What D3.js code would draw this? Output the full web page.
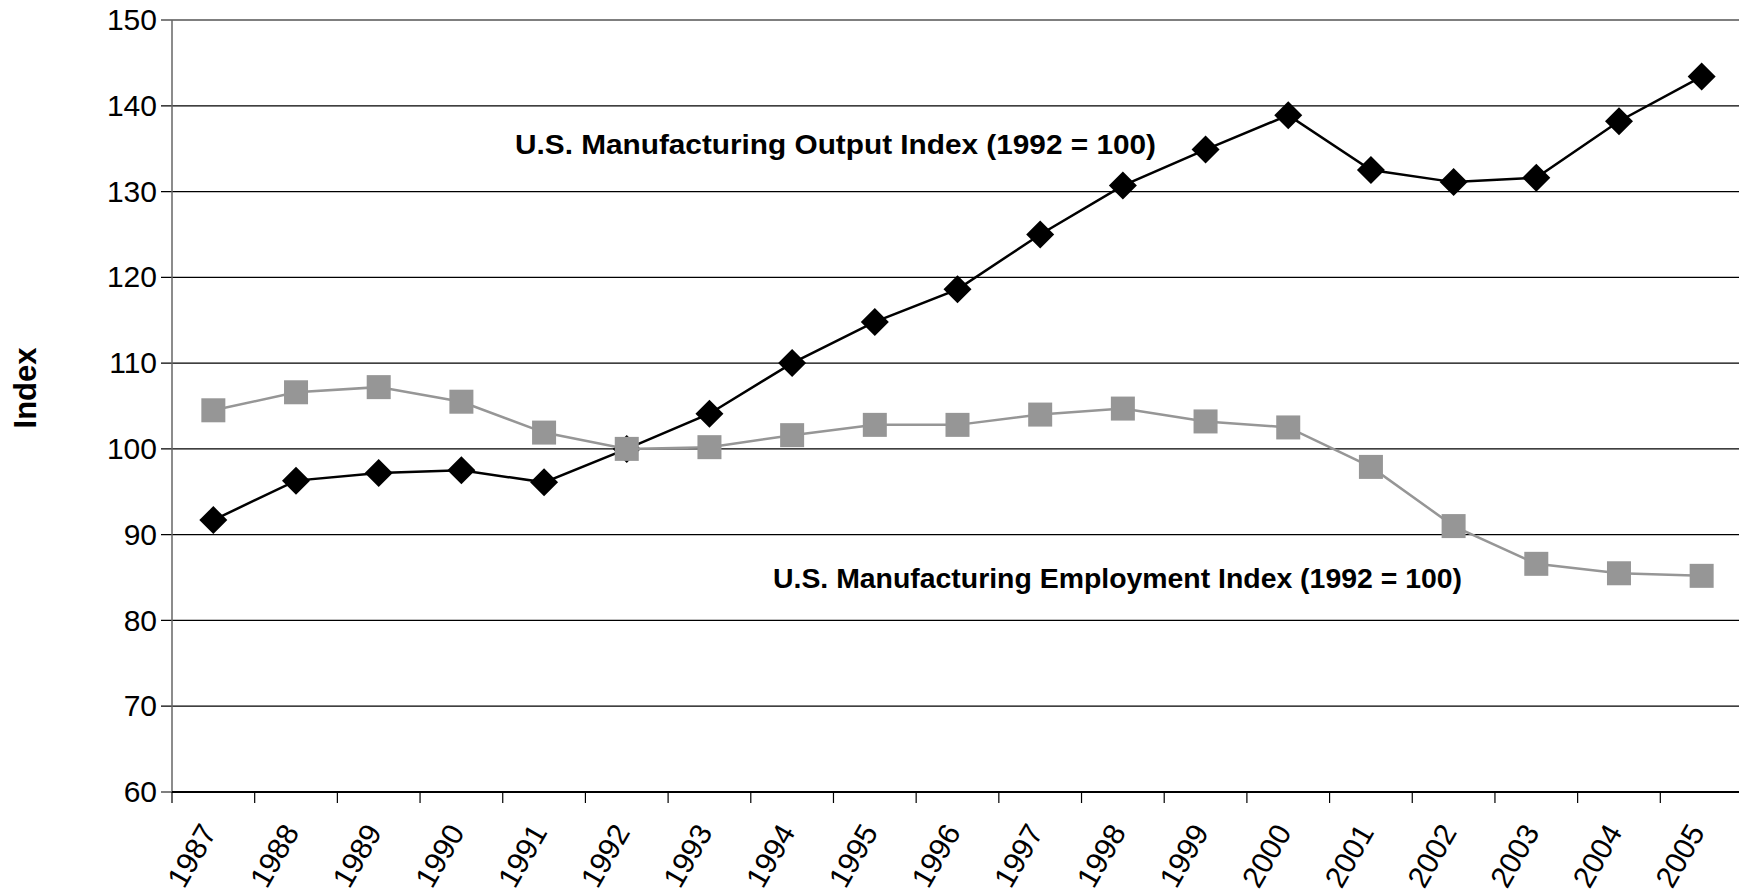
<!DOCTYPE html>
<html>
<head>
<meta charset="utf-8">
<script src="https://cdn.jsdelivr.net/npm/d3@7"></script>
<style>
  html, body { margin: 0; padding: 0; background: #fff; }
  svg { display: block; }
  .tick-label { font-family: "Liberation Sans", Arial, sans-serif; font-size: 30px; fill: #000; }
  .series-label { font-family: "Liberation Sans Narrow", "Arial Narrow", "Liberation Sans", Arial, sans-serif; font-weight: bold; font-size: 28px; fill: #000; }
  .axis-title { font-family: "Liberation Sans Narrow", "Arial Narrow", "Liberation Sans", Arial, sans-serif; font-weight: bold; font-size: 31px; fill: #000; }
</style>
</head>
<body>
<div id="chart"></div>
<script>
const years = ["1987", "1988", "1989", "1990", "1991", "1992", "1993", "1994", "1995", "1996",
  "1997", "1998", "1999", "2000", "2001", "2002", "2003", "2004", "2005"];
const outputIndex = [91.7, 96.3, 97.2, 97.5, 96.1, 100, 104.1, 110.0, 114.8, 118.6,
  125.0, 130.7, 134.9, 138.9, 132.5, 131.1, 131.6, 138.2, 143.4];
const employmentIndex = [104.5, 106.6, 107.2, 105.5, 101.9, 100, 100.2, 101.6, 102.8, 102.8,
  104.0, 104.7, 103.2, 102.5, 97.9, 91.0, 86.6, 85.5, 85.2];
const yTicks = [60, 70, 80, 90, 100, 110, 120, 130, 140, 150];
const outputLabel = "U.S. Manufacturing Output Index (1992 = 100)";
const employmentLabel = "U.S. Manufacturing Employment Index (1992 = 100)";

const WIDTH = 1739;
const HEIGHT = 895;
const PLOT = { left: 172, right: 1743, top: 20, bottom: 792 };
const GRAY = "#969696";

const svg = d3.select("#chart")
  .append("svg")
  .attr("width", WIDTH)
  .attr("height", HEIGHT)
  .attr("viewBox", `0 0 ${WIDTH} ${HEIGHT}`);

svg.append("rect").attr("width", WIDTH).attr("height", HEIGHT).attr("fill", "#fff");

const x = d3.scaleBand().domain(years).range([PLOT.left, PLOT.right]).padding(0);
const y = d3.scaleLinear().domain([60, 150]).range([PLOT.bottom, PLOT.top]);
const cx = (year) => x(year) + x.bandwidth() / 2;

// gridlines
svg.append("g")
  .selectAll("line")
  .data(yTicks)
  .enter()
  .append("line")
  .attr("x1", PLOT.left - 11)
  .attr("x2", WIDTH)
  .attr("y1", (t) => y(t))
  .attr("y2", (t) => y(t))
  .attr("stroke", "#000")
  .attr("stroke-width", 1.2);

// y axis labels
const yAxis = d3.axisLeft(y).tickValues(yTicks).tickSize(0).tickPadding(15);
const yAxisG = svg.append("g").attr("transform", `translate(${PLOT.left},0)`).call(yAxis);
yAxisG.select(".domain").remove();
yAxisG.selectAll("text").attr("class", "tick-label").attr("font-size", null).attr("font-family", null);

// y axis line
svg.append("line")
  .attr("x1", PLOT.left).attr("x2", PLOT.left)
  .attr("y1", PLOT.top).attr("y2", PLOT.bottom)
  .attr("stroke", "#666").attr("stroke-width", 1.5);

// x axis line and ticks at category boundaries
svg.append("line")
  .attr("x1", PLOT.left).attr("x2", WIDTH)
  .attr("y1", PLOT.bottom).attr("y2", PLOT.bottom)
  .attr("stroke", "#000").attr("stroke-width", 2);

const boundaries = years.map((yr) => x(yr));
svg.append("g")
  .selectAll("line")
  .data(boundaries)
  .enter()
  .append("line")
  .attr("x1", (b) => b).attr("x2", (b) => b)
  .attr("y1", PLOT.bottom).attr("y2", PLOT.bottom + 11)
  .attr("stroke", "#000").attr("stroke-width", 1.2);

svg.append("g")
  .selectAll("text")
  .data(years)
  .enter()
  .append("text")
  .attr("class", "tick-label")
  .attr("text-anchor", "end")
  .attr("transform", (yr) => `translate(${cx(yr) + 4},${PLOT.bottom + 40}) rotate(-60)`)
  .text((yr) => yr);

// axis title
svg.append("text")
  .attr("class", "axis-title")
  .attr("text-anchor", "middle")
  .attr("transform", `translate(36,${(PLOT.top + PLOT.bottom) / 2 - 18}) rotate(-90)`)
  .text("Index");

const line = d3.line().x((d) => cx(d.year)).y((d) => y(d.value));
const outputData = years.map((year, i) => ({ year, value: outputIndex[i] }));
const employmentData = years.map((year, i) => ({ year, value: employmentIndex[i] }));

// output series
svg.append("path")
  .datum(outputData)
  .attr("d", line)
  .attr("fill", "none")
  .attr("stroke", "#000")
  .attr("stroke-width", 2.5);

const DIAMOND = 14;
svg.append("g")
  .selectAll("path")
  .data(outputData)
  .enter()
  .append("path")
  .attr("transform", (d) => `translate(${cx(d.year)},${y(d.value)})`)
  .attr("d", `M0,${-DIAMOND}L${DIAMOND},0L0,${DIAMOND}L${-DIAMOND},0Z`)
  .attr("fill", "#000");

// employment series
svg.append("path")
  .datum(employmentData)
  .attr("d", line)
  .attr("fill", "none")
  .attr("stroke", GRAY)
  .attr("stroke-width", 2.5);

const SQUARE = 24;
svg.append("g")
  .selectAll("rect")
  .data(employmentData)
  .enter()
  .append("rect")
  .attr("x", (d) => cx(d.year) - SQUARE / 2)
  .attr("y", (d) => y(d.value) - SQUARE / 2)
  .attr("width", SQUARE)
  .attr("height", SQUARE)
  .attr("fill", GRAY);

// series labels
svg.append("text")
  .attr("class", "series-label")
  .attr("x", 515)
  .attr("y", 154)
  .attr("textLength", 641)
  .attr("lengthAdjust", "spacingAndGlyphs")
  .text(outputLabel);

svg.append("text")
  .attr("class", "series-label")
  .attr("x", 773)
  .attr("y", 588)
  .attr("textLength", 689)
  .attr("lengthAdjust", "spacingAndGlyphs")
  .text(employmentLabel);
</script>
</body>
</html>
